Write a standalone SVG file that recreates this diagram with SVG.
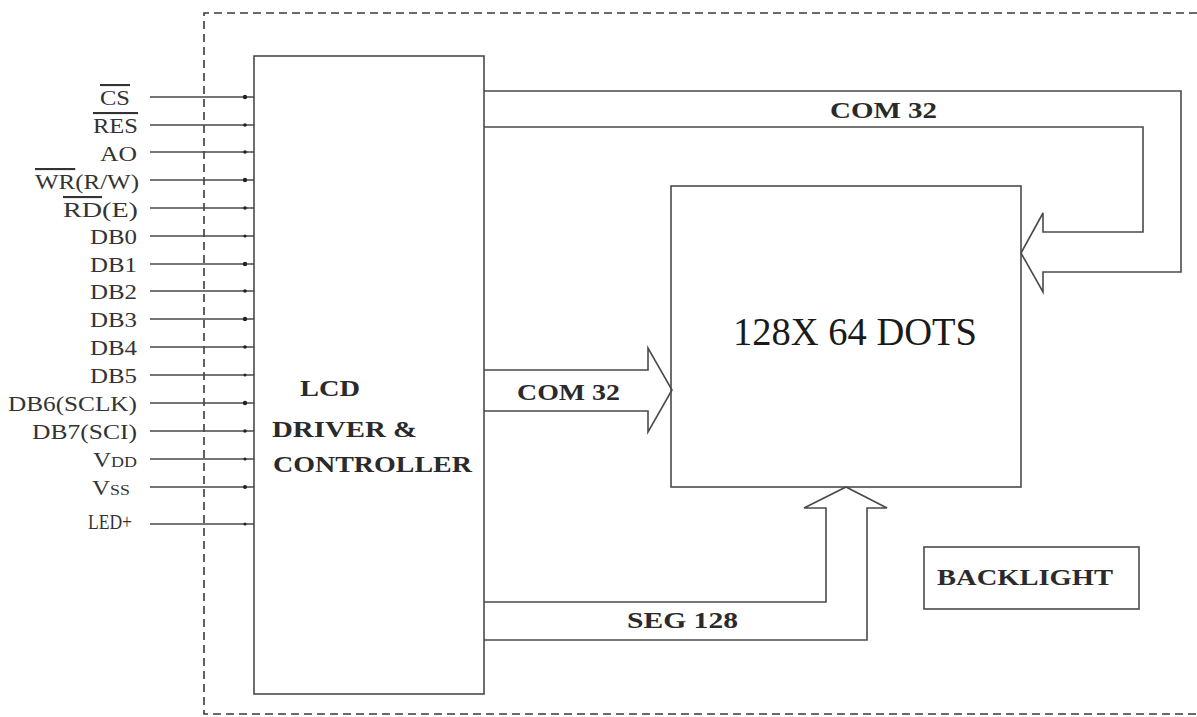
<svg xmlns="http://www.w3.org/2000/svg" width="1197" height="717" viewBox="0 0 1197 717">
<style>
.ln{fill:none;stroke:#4a4a4a;stroke-width:1.6}
.dash{fill:none;stroke:#3a3a3a;stroke-width:1.6;stroke-dasharray:8 5}
.pin{font-family:"Liberation Serif",serif;font-size:21px;fill:#333}
.lbl{font-family:"Liberation Serif",serif;font-size:23px;font-weight:bold;fill:#2a2a2a}
.big{font-family:"Liberation Serif",serif;font-size:40px;fill:#1a1a1a}
.ov{text-decoration:overline}
.dot{fill:#222}
</style>
<rect width="1197" height="717" fill="#fff"/>
<path class="dash" d="M1197,13 H204 V714 H1197"/>
<g id="controller">
<rect class="ln" x="254" y="56" width="230" height="638"/>
<text class="lbl" x="300" y="396" textLength="60" lengthAdjust="spacingAndGlyphs">LCD</text>
<text class="lbl" x="272" y="437" textLength="145" lengthAdjust="spacingAndGlyphs">DRIVER &amp;</text>
<text class="lbl" x="273" y="472" textLength="199" lengthAdjust="spacingAndGlyphs">CONTROLLER</text>
</g>
<g id="display">
<rect class="ln" x="671" y="186" width="350" height="301"/>
<text class="big" x="733" y="345" textLength="244" lengthAdjust="spacingAndGlyphs">128X 64 DOTS</text>
</g>
<g id="backlight">
<rect class="ln" x="924" y="547" width="215" height="62"/>
<text class="lbl" x="937" y="585" textLength="176" lengthAdjust="spacingAndGlyphs">BACKLIGHT</text>
</g>
<g id="pins">
<g class="ln">
<path d="M150,97H254M150,125H254M150,152H254M150,180H254M150,208H254M150,236H254M150,264H254M150,291H254M150,319H254M150,347H254M150,375H254M150,403H254M150,431H254M150,459H254M150,487H254M150,524H254"/>
</g>
<g class="dot">
<circle cx="245" cy="97" r="2.2"/><circle cx="245" cy="125" r="1.8"/><circle cx="245" cy="152" r="1.8"/><circle cx="245" cy="180" r="2.2"/><circle cx="245" cy="208" r="1.8"/><circle cx="245" cy="236" r="1.6"/><circle cx="245" cy="264" r="2.2"/><circle cx="245" cy="291" r="1.8"/><circle cx="245" cy="319" r="2.2"/><circle cx="245" cy="347" r="1.8"/><circle cx="245" cy="375" r="1.5"/><circle cx="245" cy="403" r="2.2"/><circle cx="245" cy="431" r="1.8"/><circle cx="245" cy="459" r="1.6"/><circle cx="245" cy="487" r="2"/><circle cx="245" cy="524" r="1.5"/>
</g>
<text class="pin" x="100" y="105" textLength="30" lengthAdjust="spacingAndGlyphs"><tspan class="ov">CS</tspan></text>
<text class="pin" x="93" y="133" textLength="45" lengthAdjust="spacingAndGlyphs"><tspan class="ov">RES</tspan></text>
<text class="pin" x="100" y="161" textLength="37" lengthAdjust="spacingAndGlyphs">AO</text>
<text class="pin" x="35" y="189" textLength="104" lengthAdjust="spacingAndGlyphs"><tspan class="ov">WR</tspan>(R/W)</text>
<text class="pin" x="63" y="217" textLength="75" lengthAdjust="spacingAndGlyphs"><tspan class="ov">RD</tspan>(E)</text>
<text class="pin" x="90" y="244" textLength="47" lengthAdjust="spacingAndGlyphs">DB0</text>
<text class="pin" x="90" y="272" textLength="47" lengthAdjust="spacingAndGlyphs">DB1</text>
<text class="pin" x="90" y="299" textLength="47" lengthAdjust="spacingAndGlyphs">DB2</text>
<text class="pin" x="90" y="327" textLength="47" lengthAdjust="spacingAndGlyphs">DB3</text>
<text class="pin" x="90" y="355" textLength="47" lengthAdjust="spacingAndGlyphs">DB4</text>
<text class="pin" x="90" y="383" textLength="47" lengthAdjust="spacingAndGlyphs">DB5</text>
<text class="pin" x="8" y="411" textLength="129" lengthAdjust="spacingAndGlyphs">DB6(SCLK)</text>
<text class="pin" x="32" y="439" textLength="105" lengthAdjust="spacingAndGlyphs">DB7(SCI)</text>
<text class="pin" x="93" y="467" textLength="44" lengthAdjust="spacingAndGlyphs">V<tspan font-size="15">DD</tspan></text>
<text class="pin" x="92" y="495" textLength="38" lengthAdjust="spacingAndGlyphs">V<tspan font-size="15">SS</tspan></text>
<text class="pin" x="88" y="529" font-size="16" textLength="44" lengthAdjust="spacingAndGlyphs">LED+</text>
</g>
<g id="connectors">
<path class="ln" d="M484,91 H1181 V272 H1043 V292 L1021,253 L1043,213 V232 H1143 V127 H484"/>
<text class="lbl" x="830" y="118" textLength="107" lengthAdjust="spacingAndGlyphs">COM 32</text>
<path class="ln" d="M484,370 H648 V348 L672,390 L648,432 V411 H484"/>
<text class="lbl" x="517" y="400" textLength="103" lengthAdjust="spacingAndGlyphs">COM 32</text>
<path class="ln" d="M484,602 H826 V508 H804 L846,487 L887,508 H867 V640 H484"/>
<text class="lbl" x="627" y="628" textLength="111" lengthAdjust="spacingAndGlyphs">SEG 128</text>
</g>
</svg>
